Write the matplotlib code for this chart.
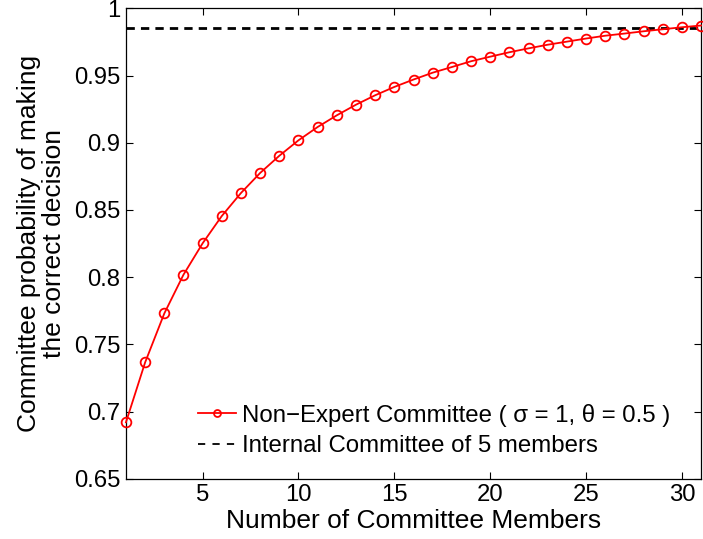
import matplotlib
matplotlib.use("Agg")
import matplotlib.pyplot as plt

members = list(range(1, 32))
non_expert = [0.692, 0.7366, 0.773, 0.8018, 0.8252, 0.8455, 0.8626, 0.8775, 0.8903, 0.9018,
              0.9117, 0.9204, 0.9283, 0.9353, 0.9415, 0.9470, 0.9521, 0.9563, 0.9606, 0.9640,
              0.9673, 0.9702, 0.9729, 0.9752, 0.9775, 0.9796, 0.9812, 0.9829, 0.9844, 0.9859, 0.9872]
internal_value = 0.9851

xticks = [5, 10, 15, 20, 25, 30]
yticks = [0.65, 0.7, 0.75, 0.8, 0.85, 0.9, 0.95, 1.0]
yticklabels = ["0.65", "0.7", "0.75", "0.8", "0.85", "0.9", "0.95", "1"]

plt.rcParams['font.family'] = ['Liberation Sans', 'DejaVu Sans']

fig = plt.figure(figsize=(7.03, 5.39), dpi=100)
ax = fig.add_axes([0.1792, 0.1118, 0.8180, 0.8728])

ax.plot(members, non_expert, color='red', marker='o', markersize=7, markerfacecolor='none',
        markeredgewidth=1.3, linewidth=1.3, clip_on=False, zorder=3,
        label='Non\u2212Expert Committee ( \u03c3 = 1, \u03b8 = 0.5 )')
ax.axhline(internal_value, color='black', linestyle=(0, (3, 2.2)), linewidth=2.0, zorder=2,
           label='Internal Committee of 5 members')

ax.set_xlim(1, 31)
ax.set_ylim(0.65, 1.0)
ax.set_xticks(xticks)
ax.set_yticks(yticks)
ax.set_yticklabels(yticklabels)
ax.tick_params(direction='in', top=True, right=True, labelsize=17.2, length=5, width=0.8, pad=4)
for s in ax.spines.values():
    s.set_linewidth(0.9)

ax.set_xlabel('Number of Committee Members', fontsize=19, labelpad=2)
ax.set_ylabel('Committee probability of making\nthe correct decision', fontsize=19, labelpad=6,
              linespacing=1.05)

leg = ax.legend(loc='lower left', bbox_to_anchor=(0.108, 0.025), frameon=False, fontsize=17.3,
                handlelength=1.6, handletextpad=0.25, labelspacing=0.36, borderaxespad=0)
for h in leg.legend_handles:
    h.set_linewidth(1.3)
leg.legend_handles[0].set_markersize(5)
leg.legend_handles[1].set_linestyle((0, (4, 4)))

fig.savefig('out.png', dpi=100)
